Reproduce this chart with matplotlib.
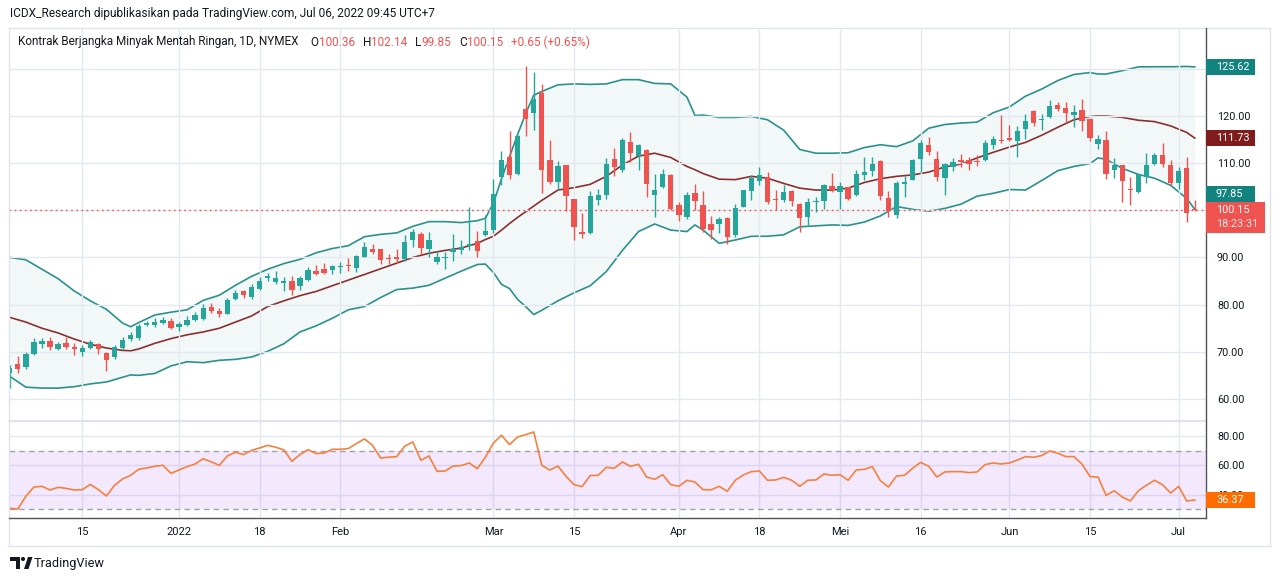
import numpy as np
import pandas as pd
import matplotlib
matplotlib.use("Agg")
import matplotlib.pyplot as plt
from matplotlib.patches import Rectangle, Polygon, Circle
from matplotlib.lines import Line2D

plt.rcParams['font.family'] = ['Roboto', 'DejaVu Sans']

###-----------------------------------------
# Light crude (CL1!) daily bars, 2 Dec 2021 - 6 Jul 2022

holidays = ['2021-12-24', '2022-01-17', '2022-02-21', '2022-04-15',
            '2022-05-30', '2022-06-20', '2022-07-04']
dates = pd.bdate_range('2021-12-02', '2022-07-06')
dates = dates[~dates.isin(pd.to_datetime(holidays))]

open_ = [65.6, 67.4, 66.7, 69.5, 71.6, 72.3, 70.6, 71.8, 71.0, 70.0,
         70.8, 71.6, 69.8, 68.9, 70.8, 72.7, 73.0, 75.6, 75.6, 76.1,
         76.5, 75.2, 75.7, 76.8, 77.0, 79.5, 78.6, 78.1, 81.1, 82.8,
         81.7, 83.3, 85.7, 84.9, 84.5, 85.0, 84.0, 85.2, 87.1, 87.5,
         87.3, 88.0, 88.35, 87.8, 90.1, 91.9, 91.7, 89.8, 90.0, 89.6,
         93.7, 94.9, 91.9, 89.0, 89.9, 91.2, 91.6, 92.4, 93.4, 94.7,
         95.8, 107.0, 111.4, 107.8, 121.4, 120.6, 124.8, 110.6, 106.0, 109.5,
         102.3, 95.5, 95.1, 102.2, 103.3, 110.9, 108.6, 114.4, 111.5, 112.8,
         103.3, 105.0, 107.5, 101.2, 98.5, 103.7, 101.2, 97.1, 97.0, 98.3,
         94.8, 100.8, 104.0, 106.2, 107.0, 102.4, 102.2, 104.1, 101.4, 98.5,
         101.7, 101.9, 105.2, 103.8, 104.9, 103.3, 107.4, 108.4, 110.5, 102.6,
         99.0, 105.5, 106.5, 110.8, 113.9, 110.8, 106.8, 109.1, 110.6, 110.6,
         110.4, 110.6, 113.9, 115.0, 115.4, 114.7, 117.3, 121.0, 119.2, 119.7,
         122.4, 121.6, 120.2, 121.2, 119.4, 114.1, 114.8, 108.6, 109.5, 104.5,
         103.8, 107.1, 109.8, 111.8, 109.6, 105.8, 108.9, 100.36]
high = [67.3, 69.2, 70.0, 72.9, 72.9, 73.2, 72.0, 73.1, 71.8, 71.5,
        72.4, 71.8, 69.9, 71.5, 73.1, 74.1, 75.9, 76.6, 77.2, 77.3,
        77.1, 76.4, 77.5, 78.5, 80.1, 80.3, 79.2, 81.3, 83.0, 83.1,
        84.4, 85.8, 86.8, 87.2, 85.8, 86.0, 86.0, 87.9, 88.5, 88.8,
        88.5, 89.0, 89.8, 90.6, 93.2, 92.8, 91.8, 90.7, 91.7, 94.7,
        96.0, 95.3, 95.3, 91.3, 91.2, 94.9, 93.8, 100.6, 95.7, 99.1,
        106.7, 112.5, 116.8, 116.0, 130.5, 129.4, 126.8, 115.0, 110.4, 109.7,
        102.4, 99.4, 104.0, 104.6, 111.0, 113.3, 115.3, 116.6, 114.1, 113.0,
        107.7, 108.7, 107.7, 101.8, 103.9, 105.6, 104.0, 98.8, 98.6, 98.5,
        101.4, 104.3, 107.5, 109.1, 108.2, 104.3, 105.4, 104.3, 101.5, 102.6,
        102.8, 105.6, 108.0, 105.9, 105.0, 108.6, 111.4, 111.4, 110.7, 104.1,
        106.3, 107.2, 110.8, 115.0, 115.6, 112.5, 110.0, 111.1, 112.0, 111.3,
        111.8, 115.0, 115.7, 120.1, 118.0, 117.8, 120.5, 121.2, 120.5, 123.3,
        122.9, 122.9, 122.4, 123.7, 119.6, 115.9, 116.8, 111.1, 109.6, 107.1,
        107.9, 112.2, 112.2, 114.2, 110.6, 109.2, 111.3, 102.14]
low = [62.4, 65.6, 66.4, 69.3, 70.9, 70.3, 70.3, 70.6, 69.3, 69.2,
       70.6, 69.6, 66.0, 68.4, 70.6, 72.2, 72.4, 75.5, 75.3, 75.9,
       74.8, 74.4, 75.5, 76.5, 76.7, 78.2, 77.4, 78.0, 81.0, 81.3,
       81.2, 83.0, 85.1, 84.3, 82.9, 82.0, 83.1, 85.0, 86.3, 86.5,
       86.4, 86.7, 87.1, 86.9, 90.0, 90.8, 88.7, 88.7, 88.8, 89.3,
       92.3, 90.8, 90.2, 88.7, 87.5, 89.3, 90.7, 91.5, 90.1, 94.5,
       95.1, 105.3, 106.6, 107.5, 115.7, 117.1, 103.7, 105.5, 104.4, 99.8,
       93.7, 94.1, 95.0, 101.1, 102.4, 107.2, 108.2, 110.3, 108.6, 102.9,
       98.5, 104.7, 100.0, 97.8, 98.1, 100.0, 95.5, 93.9, 95.2, 92.8,
       94.4, 100.6, 102.1, 105.4, 101.4, 100.0, 101.7, 101.0, 95.3, 96.9,
       99.7, 100.2, 103.8, 100.3, 102.1, 103.1, 106.5, 107.3, 102.1, 98.5,
       98.3, 102.8, 106.4, 108.2, 111.8, 106.2, 103.3, 108.3, 109.2, 108.6,
       109.3, 110.4, 112.9, 114.2, 114.7, 111.3, 115.2, 117.8, 117.1, 119.6,
       121.0, 118.7, 117.6, 116.8, 114.7, 112.9, 106.7, 106.9, 101.7, 101.2,
       103.6, 105.7, 109.5, 109.2, 105.3, 104.5, 97.5, 99.85]
close = [66.5, 66.26, 69.49, 72.05, 72.36, 70.94, 71.67, 71.0, 70.5, 70.7,
         72.0, 70.5, 68.3, 71.0, 72.5, 73.6, 75.5, 76.0, 76.3, 76.8,
         75.0, 75.9, 76.8, 77.7, 79.3, 78.7, 78.0, 81.0, 82.5, 82.0,
         83.7, 85.0, 86.0, 85.6, 85.1, 83.1, 85.6, 87.3, 86.5, 86.7,
         88.1, 88.2, 88.25, 90.3, 92.3, 91.2, 89.4, 89.6, 89.7, 93.2,
         95.5, 92.0, 93.6, 90.0, 90.2, 91.9, 92.3, 92.9, 91.4, 95.7,
         103.4, 110.6, 107.5, 115.7, 119.3, 123.7, 108.5, 106.0, 109.3, 103.0,
         96.4, 95.0, 103.0, 103.3, 109.8, 109.1, 114.9, 112.2, 113.9, 105.6,
         104.2, 107.7, 100.2, 99.0, 103.3, 101.9, 96.0, 95.9, 98.2, 94.3,
         100.5, 104.2, 106.9, 107.5, 101.7, 102.1, 103.8, 101.9, 98.3, 101.7,
         102.0, 105.4, 104.4, 105.2, 102.4, 107.7, 108.1, 109.8, 103.1, 99.8,
         105.7, 106.1, 110.6, 114.2, 112.4, 107.0, 109.9, 110.3, 110.25, 109.8,
         110.2, 114.2, 115.2, 114.7, 114.9, 116.9, 119.0, 118.5, 119.4, 122.1,
         121.5, 120.7, 120.9, 118.9, 115.3, 115.2, 107.8, 109.5, 106.2, 104.2,
         107.6, 109.7, 111.8, 109.8, 105.8, 108.4, 99.5, 100.15]

# RSI(14), one value per bar
rsi = [30.7, 30.2, 38.9, 45.2, 45.7, 43.2, 45.0, 44.3, 43.2, 43.4,
       47.0, 43.4, 39.1, 46.4, 50.7, 53.2, 57.3, 58.2, 59.3, 60.0,
       54.5, 56.8, 59.1, 60.9, 64.5, 62.3, 60.0, 66.4, 68.9, 67.3,
       70.2, 71.8, 73.6, 72.3, 70.5, 62.7, 67.3, 70.7, 68.0, 68.4,
       70.9, 70.9, 71.4, 74.8, 78.0, 73.6, 65.0, 65.5, 65.9, 73.0,
       75.9, 63.4, 66.4, 55.9, 56.1, 59.5, 59.8, 61.6, 57.7, 65.5,
       75.2, 80.5, 74.1, 79.3, 80.9, 82.7, 60.0, 56.8, 59.5, 52.5,
       46.8, 45.5, 53.0, 53.2, 58.6, 58.0, 62.3, 59.3, 60.7, 52.0,
       50.5, 53.6, 46.8, 45.7, 49.8, 48.6, 43.4, 43.3, 45.7, 42.3,
       49.8, 53.4, 55.7, 56.1, 49.8, 50.0, 51.8, 49.8, 45.7, 49.8,
       50.0, 54.1, 53.2, 53.6, 49.8, 56.8, 57.3, 59.1, 49.5, 45.2,
       52.7, 53.2, 58.0, 62.0, 59.3, 52.0, 55.5, 55.7, 55.7, 55.0,
       55.5, 60.5, 61.6, 60.9, 61.6, 63.6, 65.9, 65.5, 66.6, 69.8,
       68.2, 65.9, 65.9, 60.9, 52.3, 52.0, 39.5, 42.7, 38.4, 35.7,
       42.7, 46.4, 49.8, 46.8, 41.1, 45.7, 35.7, 36.37]

# Bollinger Bands (20, 2), read at these bar numbers
bb_idx = [0, 2, 4, 6, 8, 10, 12, 14, 15, 16, 18, 20, 22, 24, 26, 28, 30, 32, 34, 36,
          38, 40, 42, 44, 46, 48, 50, 52, 54, 56, 58, 59, 60, 61, 62, 63, 64, 65, 66, 68,
          70, 72, 74, 76, 78, 80, 82, 84, 85, 86, 88, 90, 92, 94, 96, 98, 100, 102, 104, 106,
          108, 110, 112, 114, 116, 118, 120, 122, 124, 126, 128, 130, 132, 134, 135, 136, 138, 140, 142, 144,
          146, 147]
bb_upper = [88.47, 88.01, 86.17, 84.33, 81.94, 80.01, 78.35, 75.68, 74.95, 75.78,
            77.25, 77.80, 78.26, 80.10, 81.11, 83.04, 84.79, 86.17, 87.27, 88.10,
            89.38, 90.21, 90.76, 92.51, 92.97, 93.25, 94.53, 95.45, 95.45, 95.27,
            95.64, 96.10, 99.04, 103.82, 108.14, 112.46, 116.51, 120.10, 120.83, 122.12,
            122.30, 122.21, 122.30, 123.13, 123.13, 122.40, 122.30, 119.73, 116.14, 116.23,
            115.77, 115.77, 115.96, 115.31, 113.29, 109.52, 108.79, 108.79, 108.88, 109.89,
            110.44, 110.07, 111.18, 113.66, 114.39, 114.67, 114.85, 116.69, 117.80, 119.91,
            121.29, 122.95, 124.14, 124.51, 124.23, 124.23, 124.88, 125.62, 125.65, 125.65,
            125.70, 125.62]
bb_basis = [76.79, 75.87, 74.67, 73.75, 72.56, 71.55, 70.81, 70.35, 70.26, 70.63,
            71.73, 72.65, 73.39, 73.94, 74.67, 75.87, 77.06, 78.90, 80.01, 81.02,
            81.84, 82.95, 84.05, 85.15, 86.26, 87.36, 88.47, 89.29, 89.84, 90.30,
            91.22, 91.96, 92.60, 93.80, 95.09, 96.28, 97.38, 98.49, 99.59, 101.61,
            102.07, 102.72, 104.28, 106.49, 108.23, 108.79, 107.96, 106.21, 105.57, 104.83,
            103.73, 103.64, 104.28, 103.91, 102.90, 101.98, 101.61, 101.61, 101.98, 103.08,
            103.82, 104.28, 104.56, 105.11, 106.12, 106.67, 107.87, 108.97, 109.98, 110.90,
            112.28, 113.84, 115.31, 115.96, 116.05, 116.05, 115.77, 115.22, 114.95, 114.12,
            112.83, 111.73]
bb_lower = [65.29, 63.18, 63.00, 63.00, 63.27, 63.82, 64.19, 65.11, 65.57, 65.48,
            65.85, 67.32, 68.14, 67.96, 68.42, 68.60, 69.06, 70.17, 71.64, 73.94,
            75.13, 76.60, 78.26, 78.90, 80.65, 82.21, 82.49, 83.04, 84.42, 85.80,
            87.09, 87.18, 85.52, 83.22, 82.40, 80.28, 78.90, 77.34, 78.17, 80.01,
            81.57, 82.95, 85.71, 89.84, 93.52, 94.99, 93.80, 93.52, 94.81, 93.80,
            91.22, 91.87, 92.60, 92.60, 92.88, 94.44, 94.63, 94.81, 94.72, 95.36,
            96.56, 98.40, 97.84, 97.48, 98.03, 98.86, 100.42, 100.97, 101.71, 101.61,
            103.45, 105.38, 106.21, 106.76, 107.87, 107.59, 105.84, 104.65, 103.91, 102.53,
            99.96, 97.85]

tick_dates = ['2021-12-15', '2022-01-03', '2022-01-18', '2022-02-01', '2022-03-01',
              '2022-03-15', '2022-04-01', '2022-04-18', '2022-05-02', '2022-05-16',
              '2022-06-01', '2022-06-15', '2022-07-01']
tick_labels = ['15', '2022', '18', 'Feb', 'Mar', '15', 'Apr', '18', 'Mei', '16',
               'Jun', '15', 'Jul']
price_ticks = [60, 70, 80, 90, 100, 110, 120, 130]
rsi_ticks = [40, 60, 80]

header = "ICDX_Research dipublikasikan pada TradingView.com, Jul 06, 2022 09:45 UTC+7"
symbol = "Kontrak Berjangka Minyak Mentah Ringan, 1D, NYMEX"
countdown = "18:23:31"

###-----------------------------------------
# look

UP, DOWN = '#26a69a', '#ef5350'
BB_LINE, BB_MID = '#2b918c', '#8b2f2f'
BB_TAG, MID_TAG = '#12837f', '#7f1d1d'
RSI_LINE, RSI_TAG = '#f5813f', '#ff6d00'
GRID, FRAME, AXLINE = '#e3e9ef', '#e0e3eb', '#50535e'
TEXT = '#131722'

W, H = 1280, 581
LEFT, RIGHT = 9, 1206
MAIN_T, MAIN_B = 28, 420
RSI_T, RSI_B = 422, 518

XLIM = (-0.09, 148.39)
PRICE_LIM = (55.54, 138.65)
BB_LIM = (56.78, 133.20)      # bands sit on their own overlay scale
RSI_LIM = (24.1, 89.5)


def box(x0, y0, x1, y1):
    return [x0 / W, 1 - y1 / H, (x1 - x0) / W, (y1 - y0) / H]


def to_px(v, lim, top, bottom):
    return top + (lim[1] - v) / (lim[1] - lim[0]) * (bottom - top)


fig = plt.figure(figsize=(W / 100, H / 100), dpi=100)
fig.patch.set_facecolor('white')

ax = fig.add_axes(box(LEFT, MAIN_T, RIGHT, MAIN_B))
ax_bb = ax.twinx()
ax.set_zorder(ax_bb.get_zorder() + 1)
ax.patch.set_visible(False)
ax_r = fig.add_axes(box(LEFT, RSI_T, RIGHT, RSI_B), sharex=ax)

x = np.arange(len(dates))
tick_pos = [dates.get_loc(pd.Timestamp(d)) for d in tick_dates]

# Bollinger bands (under the candles)
ax_bb.fill_between(bb_idx, bb_lower, bb_upper, color=BB_LINE, alpha=0.06, lw=0)
ax_bb.plot(bb_idx, bb_upper, color=BB_LINE, lw=1.2)
ax_bb.plot(bb_idx, bb_lower, color=BB_LINE, lw=1.2)
ax_bb.plot(bb_idx, bb_basis, color=BB_MID, lw=1.2)
ax_bb.set_ylim(*BB_LIM)
ax_bb.set_yticks([])
for s in ax_bb.spines.values():
    s.set_visible(False)

# candles
o, h, l, c = (np.array(v) for v in (open_, high, low, close))
col = np.where(c >= o, UP, DOWN)
ax.vlines(x, l, h, colors=col, lw=1, zorder=3)
ax.bar(x, np.maximum(np.abs(c - o), 0.2), bottom=np.minimum(o, c), width=0.66,
       color=col, lw=0, zorder=4)
ax.axhline(c[-1], color=DOWN, lw=1, ls=(0, (1.2, 2.5)), zorder=2)

# RSI
ax_r.axhspan(30, 70, color='#b366f0', alpha=0.15, lw=0)
for lvl in (30, 70):
    ax_r.axhline(lvl, color='#a0a3ab', lw=1, ls=(0, (4, 3)))
ax_r.plot(x, rsi, color=RSI_LINE, lw=1.2, zorder=3)

for a in (ax, ax_r):
    a.set_xticks(tick_pos)
    a.grid(True, color=GRID, lw=1)
    a.set_axisbelow(True)
    for s in a.spines.values():
        s.set_visible(False)
    a.yaxis.tick_right()
    a.tick_params(length=0, colors=TEXT, labelsize=7.8)
    a.tick_params(axis='y', pad=7.9)

ax.set_xlim(*XLIM)
ax.set_ylim(*PRICE_LIM)
ax.set_yticks(price_ticks)
ax.set_yticklabels(['' if t in (100, 130) else f'{t:.2f}' for t in price_ticks])
ax.tick_params(labelbottom=False)

ax_r.set_ylim(*RSI_LIM)
ax_r.set_yticks(rsi_ticks)
ax_r.set_yticklabels([f'{t:.2f}' for t in rsi_ticks])
ax_r.set_xticklabels(tick_labels)
ax_r.tick_params(axis='x', pad=6.5, labelsize=8)


# frame and axis lines
def fig_line(x0, y0, x1, y1, color, lw=1.0):
    fig.add_artist(Line2D([x0 / W, x1 / W], [1 - y0 / H, 1 - y1 / H], color=color,
                          lw=lw, transform=fig.transFigure, zorder=5))


fig_line(LEFT, 28, 1270, 28, FRAME)
fig_line(LEFT, 546, 1270, 546, FRAME)
fig_line(LEFT, 28, LEFT, 546, FRAME)
fig_line(1270, 28, 1270, 546, FRAME)
fig_line(LEFT, 421, RIGHT, 421, FRAME, lw=1.5)
fig_line(RIGHT, 28, RIGHT, RSI_B, AXLINE)
fig_line(LEFT, RSI_B, RIGHT, RSI_B, AXLINE)


# value tags on the right scale
def tag(yc, lines, face, right=1255, line_h=15):
    hgt = line_h * len(lines) + 1
    top = yc - 8
    fig.add_artist(Rectangle((RIGHT / W, 1 - (top + hgt) / H), (right - RIGHT) / W, hgt / H,
                             transform=fig.transFigure, facecolor=face, edgecolor='none',
                             zorder=6))
    for k, t in enumerate(lines):
        fig.text(1216 / W, 1 - (yc + k * 14) / H, t, color='white', fontsize=7.8,
                 va='center', ha='left', zorder=7,
                 alpha=1 if k == 0 else 0.85)


tag(to_px(bb_upper[-1], BB_LIM, MAIN_T, MAIN_B), [f'{bb_upper[-1]:.2f}'], BB_TAG)
tag(to_px(bb_basis[-1], BB_LIM, MAIN_T, MAIN_B), [f'{bb_basis[-1]:.2f}'], MID_TAG)
# lower band tag is pushed up above the last-price tag
tag(to_px(bb_lower[-1], BB_LIM, MAIN_T, MAIN_B) - 15.5, [f'{bb_lower[-1]:.2f}'], BB_TAG)
tag(to_px(c[-1], PRICE_LIM, MAIN_T, MAIN_B), [f'{c[-1]:.2f}', countdown], DOWN, right=1265)
tag(to_px(rsi[-1], RSI_LIM, RSI_T, RSI_B), [f'{rsi[-1]:.2f}'], RSI_TAG)

# header and legend
renderer = fig.canvas.get_renderer()


def fit(t, width_px):
    w = t.get_window_extent(renderer).width
    t.set_fontsize(t.get_fontsize() * width_px / w)


t = fig.text(10 / W, 1 - 14 / H, header, color=TEXT, fontsize=9, va='center')
fit(t, 429)

t0 = fig.text(18 / W, 1 - 42 / H, symbol, color=TEXT, fontsize=9, va='center')
fit(t0, 284)
fs = t0.get_fontsize()
chg = c[-1] - c[-2]
pieces = [(12, 'O', TEXT), (0, f'{o[-1]:.2f}', DOWN),
          (8, 'H', TEXT), (0, f'{h[-1]:.2f}', DOWN),
          (8, 'L', TEXT), (0, f'{l[-1]:.2f}', DOWN),
          (8, 'C', TEXT), (0, f'{c[-1]:.2f}', DOWN),
          (8, f'{chg:+.2f} ({chg / c[-2] * 100:+.2f}%)', DOWN)]
xcur = 18 + t0.get_window_extent(renderer).width
for gap, txt, colr in pieces:
    xcur += gap
    tp = fig.text(xcur / W, 1 - 42 / H, txt, color=colr, fontsize=fs, va='center')
    xcur += tp.get_window_extent(renderer).width

# TradingView mark at the bottom
logo = [Polygon([(10, 557), (20, 557), (20, 569), (15.5, 569), (15.5, 561), (10, 561)]),
        Circle((23, 559), 2.0),
        Polygon([(24, 569), (28, 557), (32.5, 557), (28.5, 569)])]
for p in logo:
    verts = p.get_path().transformed(p.get_patch_transform()).vertices
    fig.add_artist(Polygon([(vx / W, 1 - vy / H) for vx, vy in verts], closed=True,
                           transform=fig.transFigure, facecolor=TEXT, edgecolor='none'))
fig.text(34 / W, 1 - 563 / H, 'TradingView', color=TEXT, fontsize=9.2, va='center')

fig.savefig('out.png', dpi=100, facecolor='white')
